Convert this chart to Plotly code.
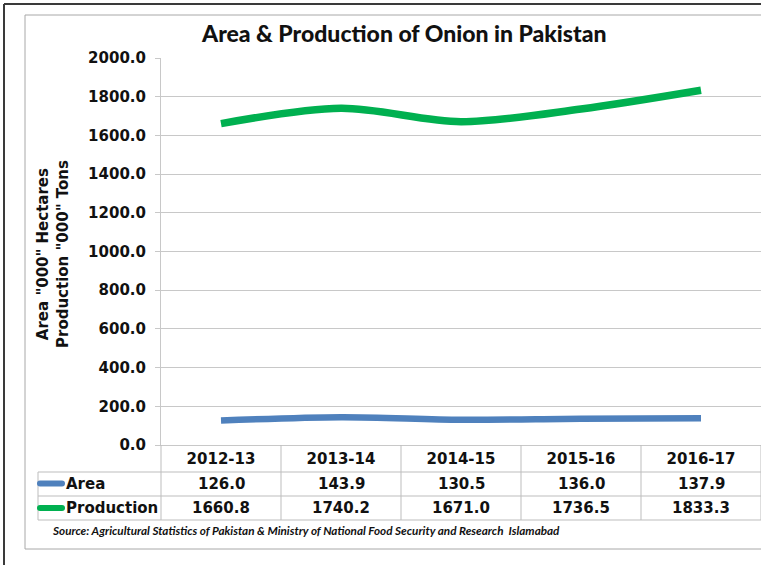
import plotly.graph_objects as go

seasons = ["2012-13", "2013-14", "2014-15", "2015-16", "2016-17"]
area = [126.0, 143.9, 130.5, 136.0, 137.9]
production = [1660.8, 1740.2, 1671.0, 1736.5, 1833.3]
y_ticks = [0, 200, 400, 600, 800, 1000, 1200, 1400, 1600, 1800, 2000]

BLUE = "#4F81BD"
GREEN = "#00B050"
GRID = "#C8C8C8"
TABLE = "#BDBDBD"
BOLD = "DejaVu Sans"

W, H = 761, 565
L, R, T, B = 161, 0, 58, 120
PW, PH = W - L - R, H - T - B


def px(x):
    return (x - L) / PW


def py(y):
    return (H - B - y) / PH


fig = go.Figure()
fig.add_trace(go.Scatter(x=seasons, y=production, name="Production", mode="lines",
                         line=dict(color=GREEN, width=7.5, shape="spline", smoothing=0.9)))
fig.add_trace(go.Scatter(x=seasons, y=area, name="Area", mode="lines",
                         line=dict(color=BLUE, width=6.5, shape="spline", smoothing=0.9)))

shapes = []
# outer dark frame and inner grey frame
shapes.append(dict(type="line", xref="paper", yref="paper", x0=px(4), x1=px(W + 5), y0=py(4), y1=py(4),
                   line=dict(color="#3A3A3A", width=2)))
shapes.append(dict(type="line", xref="paper", yref="paper", x0=px(4), x1=px(4), y0=py(4), y1=py(H + 5),
                   line=dict(color="#3A3A3A", width=2)))
shapes.append(dict(type="rect", xref="paper", yref="paper", x0=px(25), x1=px(W + 10), y0=py(15), y1=py(549),
                   line=dict(color="#A8A8A8", width=1)))

# data table below the plot
row_lines = [472, 496, 520]
for yy in row_lines:
    shapes.append(dict(type="line", xref="paper", yref="paper", x0=px(38), x1=px(W + 5), y0=py(yy), y1=py(yy),
                       line=dict(color=TABLE, width=1)))
shapes.append(dict(type="line", xref="paper", yref="paper", x0=px(38), x1=px(38), y0=py(472), y1=py(520),
                   line=dict(color=TABLE, width=1)))
shapes.append(dict(type="line", xref="paper", yref="paper", x0=0, x1=0, y0=py(445), y1=py(520),
                   line=dict(color=TABLE, width=1)))
for i in range(len(seasons)):
    shapes.append(dict(type="line", xref="x", yref="paper", x0=i + 0.5, x1=i + 0.5, y0=py(445), y1=py(520),
                       line=dict(color=TABLE, width=1)))


def key(color, yc):
    x0, x1, r = 37, 65, 3
    path = (f"M {px(x0 + r)},{py(yc - r)} L {px(x1 - r)},{py(yc - r)} "
            f"Q {px(x1)},{py(yc - r)} {px(x1)},{py(yc)} Q {px(x1)},{py(yc + r)} {px(x1 - r)},{py(yc + r)} "
            f"L {px(x0 + r)},{py(yc + r)} Q {px(x0)},{py(yc + r)} {px(x0)},{py(yc)} "
            f"Q {px(x0)},{py(yc - r)} {px(x0 + r)},{py(yc - r)} Z")
    return dict(type="path", xref="paper", yref="paper", path=path, fillcolor=color, line=dict(width=0))


shapes.append(key(BLUE, 483.5))
shapes.append(key(GREEN, 508))

annotations = []
cell_font = dict(family=BOLD, size=15, color="#111111", weight="bold")
for name, vals, yc in (("Area", area, 484), ("Production", production, 508)):
    annotations.append(dict(text=name, xref="paper", yref="paper", x=px(64), y=py(yc), xanchor="left",
                            yanchor="middle", showarrow=False, font=cell_font))
    for s, v in zip(seasons, vals):
        annotations.append(dict(text=f"{v:.1f}", xref="x", yref="paper", x=s, y=py(yc), xanchor="center",
                                yanchor="middle", showarrow=False, font=cell_font))

annotations.append(dict(text="Area &amp; Production of Onion in Pakistan", xref="paper", yref="paper",
                        x=px(404), y=py(33), xanchor="center", yanchor="middle", showarrow=False,
                        font=dict(family="Lato", size=23, color="#111111", weight=900)))
annotations.append(dict(text='Area "000" Hectares<br>Production "000" Tons', xref="paper", yref="paper",
                        x=px(53), y=py(254), xanchor="center", yanchor="middle", textangle=-90,
                        showarrow=False, font=dict(family=BOLD, size=15, color="#111111", weight="bold")))
annotations.append(dict(text="<b><i>Source: Agricultural Statistics of Pakistan &amp; Ministry of National Food "
                             "Security and Research  Islamabad</i></b>", xref="paper", yref="paper",
                        x=px(50), y=py(530), xanchor="left", yanchor="middle", showarrow=False,
                        font=dict(family="Lato", size=11.7, color="#111111")))

fig.update_layout(
    width=W, height=H, autosize=False,
    margin=dict(l=L, r=R, t=T, b=B, pad=0),
    paper_bgcolor="white", plot_bgcolor="white",
    showlegend=False,
    shapes=shapes, annotations=annotations,
    xaxis=dict(type="category", range=[-0.5, 4.5], showgrid=False, zeroline=False,
               showline=True, linecolor=GRID, linewidth=1, ticks="",
               tickfont=dict(family=BOLD, size=15, color="#111111", weight="bold"),
               ticklabelstandoff=0),
    yaxis=dict(range=[0, 2000], tickvals=y_ticks, tickformat=".1f", showgrid=True, gridcolor=GRID,
               gridwidth=1, zeroline=False, showline=True, linecolor=GRID, linewidth=1,
               ticks="outside", ticklen=5, tickcolor=GRID, ticklabelstandoff=6,
               tickfont=dict(family=BOLD, size=15, color="#111111", weight="bold")),
)

fig.write_html("out.html")
